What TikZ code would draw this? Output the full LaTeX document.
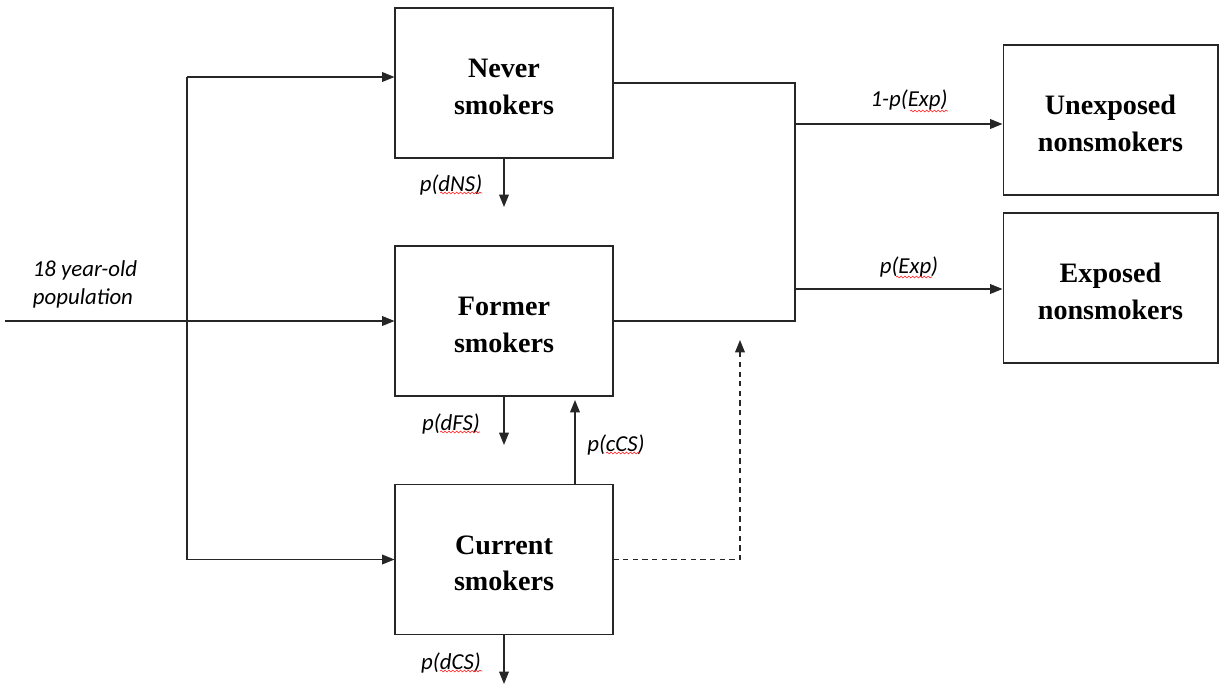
\documentclass[tikz,border=0pt]{standalone}
\usepackage{fontspec}
\setmainfont{Liberation Serif}
\setsansfont{Carlito}
\usetikzlibrary{arrows.meta,decorations.pathmorphing}
\newcommand{\tstrut}{\rule{0pt}{15pt}}
\tikzset{
  box/.style={draw=black!85, line width=0.6pt, minimum width=4.36cm, minimum height=3cm, align=center,
    font=\fontsize{16}{21}\selectfont\bfseries, inner sep=0pt},
  lab/.style={font=\fontsize{13}{16}\selectfont\sffamily\itshape, inner sep=0pt, align=left},
  conn/.style={line width=0.75pt, draw=black!85},
  arr/.style={conn, -{Triangle[length=7pt,width=5.5pt]}},
  dashedarr/.style={arr, dash pattern=on 3pt off 2.5pt},
  spell/.style={draw=red!85!white, line width=0.35pt, decorate, decoration={snake, amplitude=0.5pt, segment length=2.2pt}}
}
\begin{document}
\begin{tikzpicture}[x=0.02cm, y=-0.02cm]
\useasboundingbox (0,0) rectangle (1225,687);
% boxes
\node[box] (never) at (504,83) {\tstrut Never\\smokers};
\node[box] (former) at (504,321) {\tstrut Former\\smokers};
\node[box] (current) at (504,559.5) {\tstrut Current\\smokers};
\node[box, minimum width=4.3cm] (unexp) at (1110.5,120) {\tstrut Unexposed\\nonsmokers};
\node[box, minimum width=4.3cm] (exp) at (1110.5,288) {\tstrut Exposed\\nonsmokers};
% input
\coordinate (in) at (5,321);
\node[lab] (pop) at (85,284) {18 year-old\\population};
\draw[arr] (in) -- (former.west);
\coordinate (vt) at (187,77);
\coordinate (vb) at (187,559.5);
\draw[conn] (vt) -- (vb);
\draw[arr] (vt) -- (vt -| never.west);
\draw[arr] (vb) -- (current.west);
% merge to exposure
\coordinate (m) at (795,0);
\draw[conn] (never.east) -- (never.east -| m) |- (former.east);
\coordinate (b1) at (795,124);
\coordinate (b2) at (795,289);
\draw[arr] (b1) -- (b1 -| unexp.west);
\draw[arr] (b2) -- (b2 -| exp.west);
\node[lab] (l1) at (909,100) {1-p(Exp)};
\node[lab] (l2) at (909,267) {p(Exp)};
% death arrows
\coordinate (dn) at (504,207);
\coordinate (df) at (504,445);
\coordinate (dc) at (504,684);
\draw[arr] (never.south) -- (dn);
\draw[arr] (former.south) -- (df);
\draw[arr] (current.south) -- (dc);
\node[lab] (ldn) at (451,185) {p(dNS)};
\node[lab] (ldf) at (451,424) {p(dFS)};
\node[lab] (ldc) at (451,663) {p(dCS)};
% cessation
\coordinate (cs) at (575,0);
\coordinate (ce) at (575,400);
\draw[arr] (cs |- current.north) -- (ce);
\node[lab] (lcs) at (616,445) {p(cCS)};
% dashed
\coordinate (dd) at (740,340);
\draw[dashedarr] (current.east) -| (dd);
% spell-check squiggles
\draw[spell] (440,193) -- (482,193);
\draw[spell] (440,432) -- (480,432);
\draw[spell] (440,671) -- (482,671);
\draw[spell] (606,453) -- (640,453);
\draw[spell] (910,111) -- (948,111);
\draw[spell] (896,277) -- (932,277);
\end{tikzpicture}
\end{document}
